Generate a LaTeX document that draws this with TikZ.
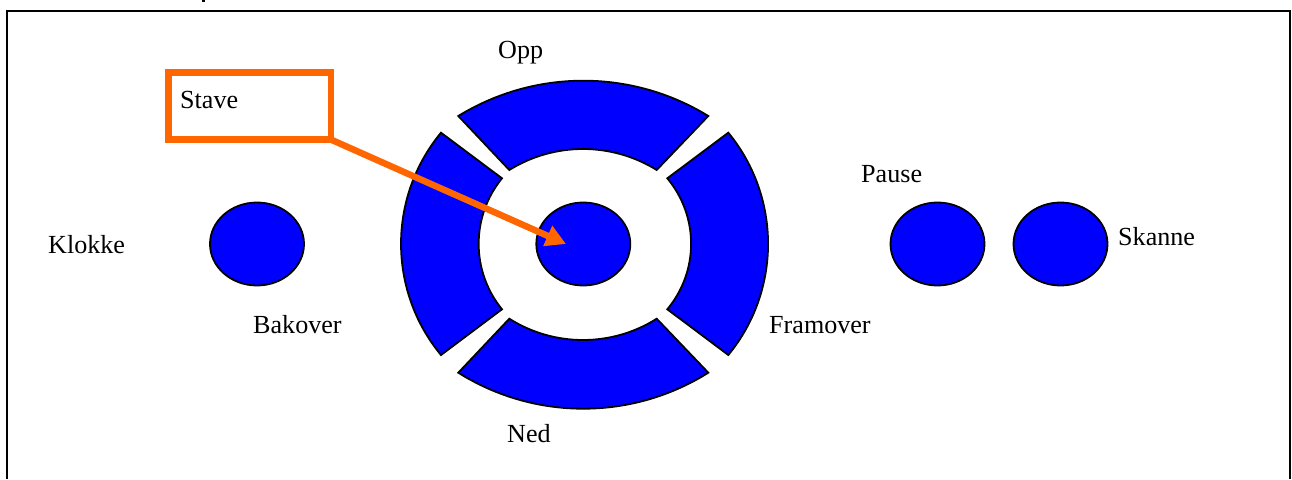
\documentclass[tikz,border=0pt]{standalone}
\usepackage{fontspec}
\setmainfont{Liberation Serif}
\usetikzlibrary{arrows.meta,shapes.geometric}
\definecolor{btn}{RGB}{0,0,255}
\definecolor{orng}{RGB}{255,102,0}
\tikzset{
  seg/.style={fill=btn,draw=black,line width=1.8pt,line join=miter},
  btnoval/.style={ellipse,fill=btn,draw=black,line width=1.8pt,minimum width=94pt,minimum height=83pt,inner sep=0pt},
  lab/.style={anchor=base west,inner sep=0pt,font=\fontsize{26.1}{30}\selectfont,text=black},
  frameline/.style={draw=black,line width=2pt},
  callout/.style={draw=orng,line width=6.5pt,fill=white,minimum width=162.5pt,minimum height=67pt,inner sep=0pt,outer sep=0pt},
  pointer/.style={draw=orng,line width=6.5pt,-{Triangle[length=20pt,width=21pt]}}
}
\begin{document}
\begin{tikzpicture}[x=1pt,y=-1pt]
\useasboundingbox (0,0) rectangle (1292,479);
\fill[white] (0,0) rectangle (1292,479);
\draw[frameline] (7,479) -- (7,11) -- (1290,11) -- (1290,479);
% ring segments
\draw[seg] (458.3,116) .. controls (535,68.9) and (631.6,68.9) .. (708.3,116) -- (656.7,170) .. controls (611.5,142) and (554.5,142) .. (509.3,170) -- cycle;
\draw[seg] (458.3,372.7) .. controls (534.7,420.7) and (631.9,420.7) .. (708.3,372.7) -- (656.7,318.7) .. controls (611.7,347.1) and (554.3,347.1) .. (509.3,318.7) -- cycle;
\draw[seg] (441,132.7) .. controls (387.7,197.1) and (387.7,290.6) .. (441,355) -- (502,309.3) .. controls (470.9,271.1) and (470.9,216.5) .. (502,178.3) -- cycle;
\draw[seg] (728.3,132.7) .. controls (781.3,197.1) and (781.3,290.6) .. (728.3,355) -- (667.3,309.3) .. controls (699,271.1) and (699,216.5) .. (667.3,178.3) -- cycle;
% round buttons
\node[btnoval] (klokkeB) at (257,244) {};
\node[btnoval] (midB) at (583.3,244) {};
\node[btnoval] (pauseB) at (937.5,244) {};
\node[btnoval] (skanneB) at (1060.5,244) {};
% labels
\node[lab] (opp) at (498,58) {Opp};
\node[lab] (klokke) at (48,253) {Klokke};
\node[lab] (bakover) at (253,333) {Bakover};
\node[lab] (ned) at (507,442) {Ned};
\node[lab] (framover) at (769,333) {Framover};
\node[lab] (pause) at (861,182) {Pause};
\node[lab] (skanne) at (1118,245) {Skanne};
% callout
\node[callout] (stave) at (249.5,106) {};
\node[lab] (stavelabel) at (180,108) {Stave};
\coordinate (tip) at (566,244);
\draw[pointer] (stave.south east) -- (tip);
% cut-off descender at the top edge
\fill[black] (202,0) rectangle (205,2);
\end{tikzpicture}
\end{document}
